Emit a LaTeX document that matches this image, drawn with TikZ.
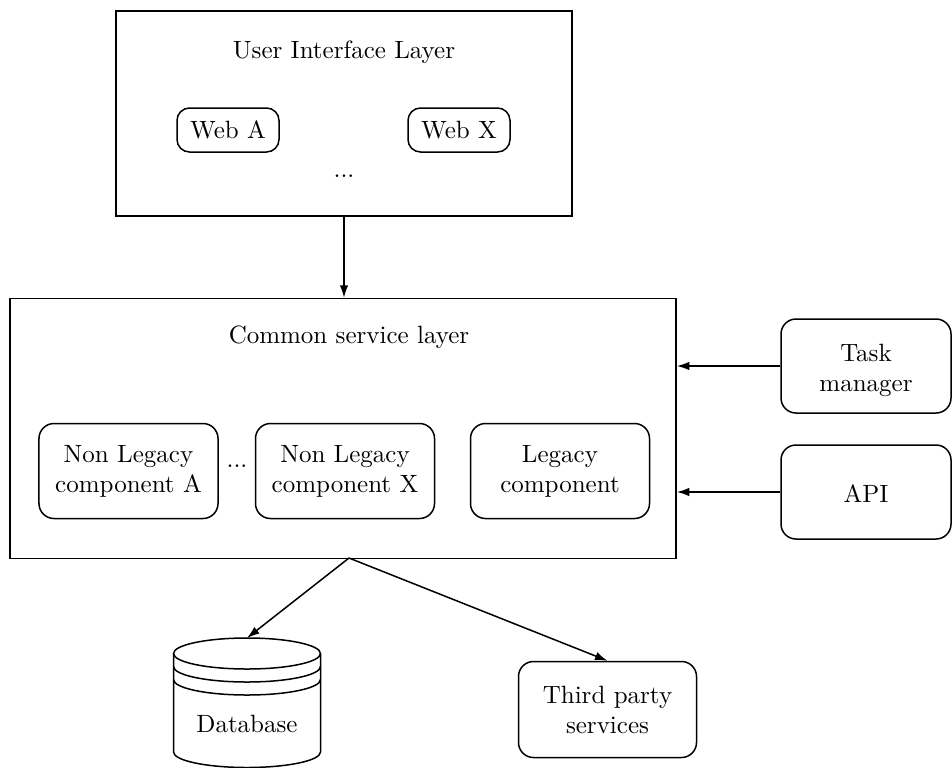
\documentclass[tikz,border=0pt]{standalone}
\usetikzlibrary{arrows.meta}
\begin{document}
\begin{tikzpicture}[x=0.4pt,y=-0.4pt,
  layer/.style={draw,semithick,inner sep=0pt},
  rbox/.style={draw,semithick,rounded corners=6pt,align=center,inner sep=0pt},
  conn/.style={semithick,-{Latex[length=5pt,width=3.4pt]}}]
\useasboundingbox (0,0) rectangle (952,767);
% UI layer
\node[layer,minimum width=182.4pt,minimum height=82pt] (ui) at (344,113.5) {};
\node (uititle) at (344,52) {User Interface Layer};
\node[rbox,rounded corners=5pt,minimum width=40.8pt,minimum height=17.6pt] (weba) at (228,130) {Web A};
\node[rbox,rounded corners=5pt,minimum width=40.8pt,minimum height=17.6pt] (webx) at (459,130) {Web X};
\node (uidots) at (344,176) {...};
% Common service layer
\node[layer,minimum width=266.4pt,minimum height=104pt] (cs) at (343,428.5) {};
\node (cstitle) at (349,337) {Common service layer};
\node[rbox,minimum width=71.6pt,minimum height=38pt] (nla) at (128.5,471) {Non Legacy\\component A};
\node (csdots) at (237,466) {...};
\node[rbox,minimum width=71.6pt,minimum height=38pt] (nlx) at (345,471) {Non Legacy\\component X};
\node[rbox,minimum width=71.6pt,minimum height=38pt] (leg) at (560,471) {Legacy\\component};
% right side
\node[rbox,minimum width=68pt,minimum height=37.6pt] (task) at (866,366) {};
\node (tasktext) at (866,370) [align=center] {Task\\manager};
\node[rbox,minimum width=68pt,minimum height=37.6pt] (api) at (866,492) {};
\node (apitext) at (866,494) {API};
% third party
\node[rbox,minimum width=71.2pt,minimum height=38.4pt] (third) at (607.5,709.5) {Third party\\services};
% database
\draw[semithick] (173.5,653.5) -- (173.5,752)
  arc[start angle=180,end angle=360,x radius=29.4pt,y radius=6.2pt]
  -- (320.5,653.5);
\draw[semithick] (247,653.5) ellipse [x radius=29.4pt,y radius=6.2pt];
\draw[semithick] (173.5,666.5) arc[start angle=180,end angle=360,x radius=29.4pt,y radius=6.2pt];
\draw[semithick] (173.5,679.5) arc[start angle=180,end angle=360,x radius=29.4pt,y radius=6.2pt];
\coordinate (dbtop) at (247,638);
\node (db) at (247,724) {Database};
% connectors
\draw[conn] (ui.south) -- (ui.south |- cs.north);
\draw[conn] (task.west) -- (task.west -| cs.east);
\draw[conn] (api.west) -- (api.west -| cs.east);
\coordinate (csout) at (349,558);
\draw[conn] (csout) -- (dbtop);
\draw[conn] (csout) -- (third.north);
\end{tikzpicture}
\end{document}
